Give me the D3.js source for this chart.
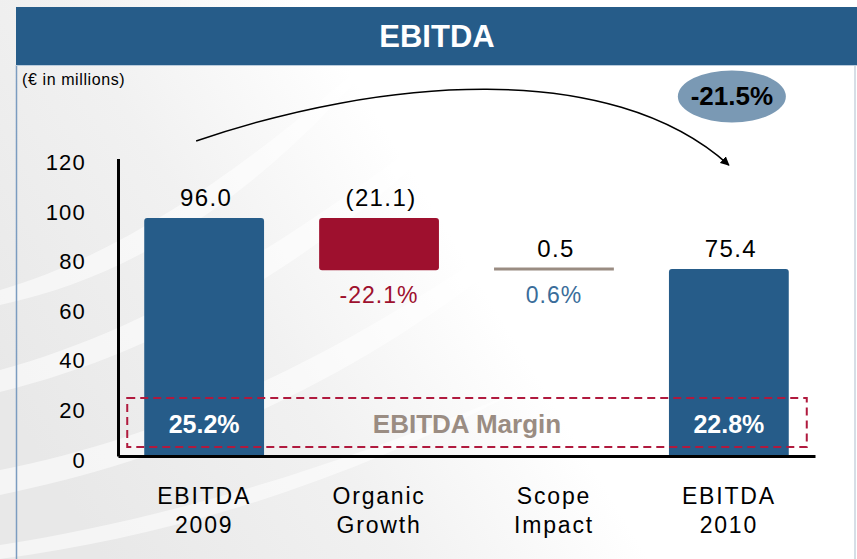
<!DOCTYPE html>
<html>
<head>
<meta charset="utf-8">
<script src="https://cdn.jsdelivr.net/npm/d3@7"></script>
<style>
    body { margin: 0; background: #fff; }
    svg { display: block; font-family: "Liberation Sans", Arial, sans-serif; }
</style>
</head>
<body>
<svg id="chart" width="857" height="559"></svg>
<script>
    // chart data
    const categories = [['EBITDA', '2009'], ['Organic', 'Growth'], ['Scope', 'Impact'], ['EBITDA', '2010']];
    const values = [96.0, -21.1, 0.5, 75.4];
    const isTotal = [true, false, false, true];
    const valueLabels = ['96.0', '(21.1)', '0.5', '75.4'];
    const changeLabels = [null, '-22.1%', '0.6%', null];
    const marginLabels = ['25.2%', null, null, '22.8%'];
    const yTicks = [0, 20, 40, 60, 80, 100, 120];
    const totalChange = '-21.5%';

    const colors = {
        blue: '#265c89',
        red: '#9e102e',
        gray: '#9a8c82',
        dash: '#b01a3e',
        pctBlue: '#3a6d9a'
    };

    const svg = d3.select('#chart');
    const width = 857;
    const height = 559;

    // background swooshes
    const defs = svg.append('defs');
    const grad = defs.append('linearGradient')
        .attr('id', 'bg')
        .attr('x1', 0).attr('y1', 0.7).attr('x2', 1).attr('y2', 0.3);
    grad.append('stop').attr('offset', 0).attr('stop-color', '#e8e8e8');
    grad.append('stop').attr('offset', 0.3).attr('stop-color', '#f1f1f1');
    grad.append('stop').attr('offset', 0.55).attr('stop-color', '#ffffff');
    svg.append('rect')
        .attr('width', width).attr('height', height)
        .attr('fill', 'url(#bg)');
    const streaks = [
        'M0,470 C200,430 400,330 640,140 C430,350 220,450 0,495 Z',
        'M0,370 C150,330 320,230 520,60 C350,250 170,350 0,392 Z',
        'M0,290 C120,255 250,170 400,30 C270,190 140,275 0,305 Z',
        'M0,545 C160,520 330,470 520,390 C350,480 180,535 0,559 Z'
    ];
    svg.selectAll('path.streak')
        .data(streaks)
        .enter().append('path')
        .attr('class', 'streak')
        .attr('d', d => d)
        .attr('fill', '#fff')
        .attr('opacity', 0.55);

    // panel borders and header
    svg.append('line')
        .attr('x1', 16.5).attr('x2', 16.5).attr('y1', 65).attr('y2', height)
        .attr('stroke', '#7b9cc0').attr('stroke-width', 1.5);
    svg.append('line')
        .attr('x1', 855).attr('x2', 855).attr('y1', 65).attr('y2', height)
        .attr('stroke', '#c9d3de').attr('stroke-width', 1.5);
    svg.append('rect')
        .attr('x', 16).attr('y', 7).attr('width', width - 16).attr('height', 58)
        .attr('fill', colors.blue);
    svg.append('line')
        .attr('x1', 16).attr('x2', width).attr('y1', 65.5).attr('y2', 65.5)
        .attr('stroke', '#b9cbdc').attr('stroke-width', 1);
    svg.append('text')
        .attr('x', 437).attr('y', 47)
        .attr('text-anchor', 'middle')
        .attr('fill', '#fff')
        .style('font-size', '31px')
        .style('font-weight', 'bold')
        .text('EBITDA');

    svg.append('text')
        .attr('x', 22).attr('y', 85)
        .style('font-size', '16px')
        .style('letter-spacing', '0.6px')
        .text('(€ in millions)');

    // scales
    const xScale = d3.scaleBand()
        .domain(d3.range(categories.length))
        .range([118, 815])
        .paddingInner(0.315)
        .paddingOuter(0.15);
    const yScale = d3.scaleLinear()
        .domain([0, 120])
        .range([456, 158.4]);

    // waterfall steps
    let running = 0;
    const steps = values.map((v, i) => {
        let start, end;
        if (isTotal[i]) {
            start = 0;
            end = v;
            running = v;
        } else {
            start = running;
            end = running + v;
            running = end;
        }
        return { i, v, start, end, lo: Math.min(start, end), hi: Math.max(start, end) };
    });

    const chart = svg.append('g');

    chart.selectAll('rect.bar')
        .data(steps)
        .enter().append('rect')
        .attr('class', 'bar')
        .attr('x', d => xScale(d.i))
        .attr('width', xScale.bandwidth())
        .attr('y', d => isTotal[d.i] ? yScale(d.hi) : (d.v < 0 ? yScale(d.hi) : yScale(d.hi) - 1.5))
        .attr('height', d => isTotal[d.i] ? yScale(d.lo) - yScale(d.hi) + 2 : Math.max(3, yScale(d.lo) - yScale(d.hi)))
        .attr('rx', d => d.v < 0 || isTotal[d.i] ? 3 : 0)
        .attr('fill', d => isTotal[d.i] ? colors.blue : (d.v < 0 ? colors.red : colors.gray));

    // axes
    const yAxis = d3.axisLeft(yScale)
        .tickValues(yTicks)
        .tickSize(0)
        .tickPadding(32)
        .tickFormat(d3.format('d'));
    const gy = chart.append('g')
        .attr('transform', 'translate(118,0)')
        .call(yAxis);
    gy.select('.domain').attr('stroke', '#000').attr('stroke-width', 3);
    gy.selectAll('.tick text')
        .attr('dy', '0.5em')
        .attr('fill', '#000')
        .style('font-size', '22px')
        .style('letter-spacing', '1.2px')
        .style('font-family', '"Liberation Sans", Arial, sans-serif');

    const xAxis = d3.axisBottom(xScale)
        .tickSize(0)
        .tickSizeOuter(0)
        .tickFormat('');
    const gx = chart.append('g')
        .attr('transform', 'translate(0,456)')
        .call(xAxis);
    gx.select('.domain').attr('stroke', '#000').attr('stroke-width', 3);
    gx.selectAll('.tick').each(function (d) {
        const t = d3.select(this).append('text')
            .attr('text-anchor', 'middle')
            .attr('fill', '#000')
            .style('font-size', '23px')
            .style('letter-spacing', '1.8px')
            .style('font-family', '"Liberation Sans", Arial, sans-serif');
        categories[d].forEach((line, k) => {
            t.append('tspan')
                .attr('x', 0)
                .attr('y', 48 + k * 29)
                .text(line);
        });
    });

    // value labels above
    chart.selectAll('text.val')
        .data(steps)
        .enter().append('text')
        .attr('class', 'val')
        .attr('x', d => xScale(d.i) + xScale.bandwidth() / 2 + 2)
        .attr('y', d => yScale(d.hi) - 12)
        .attr('text-anchor', 'middle')
        .style('font-size', '24px')
        .style('letter-spacing', '1.4px')
        .text(d => valueLabels[d.i]);

    // change % labels below the floating bars
    chart.selectAll('text.chg')
        .data(steps.filter(d => changeLabels[d.i]))
        .enter().append('text')
        .attr('class', 'chg')
        .attr('x', d => xScale(d.i) + xScale.bandwidth() / 2)
        .attr('y', d => yScale(d.lo) + 33)
        .attr('text-anchor', 'middle')
        .attr('fill', d => d.v < 0 ? colors.red : colors.pctBlue)
        .style('font-size', '23px')
        .style('letter-spacing', '1px')
        .text(d => changeLabels[d.i]);

    // EBITDA margin box
    const boxLeft = xScale(0) - 17;
    const boxRight = xScale(3) + xScale.bandwidth() + 18;
    chart.append('rect')
        .attr('x', boxLeft).attr('y', 398)
        .attr('width', boxRight - boxLeft).attr('height', 49)
        .attr('fill', 'none')
        .attr('stroke', colors.dash)
        .attr('stroke-width', 2)
        .attr('stroke-dasharray', '8,5');
    chart.selectAll('text.margin')
        .data(steps.filter(d => marginLabels[d.i]))
        .enter().append('text')
        .attr('class', 'margin')
        .attr('x', d => xScale(d.i) + xScale.bandwidth() / 2)
        .attr('y', 433)
        .attr('text-anchor', 'middle')
        .attr('fill', '#fff')
        .style('font-size', '25px')
        .style('font-weight', 'bold')
        .text(d => marginLabels[d.i]);
    chart.append('text')
        .attr('x', (boxLeft + boxRight) / 2)
        .attr('y', 433)
        .attr('text-anchor', 'middle')
        .attr('fill', colors.gray)
        .style('font-size', '26px')
        .style('font-weight', 'bold')
        .text('EBITDA Margin');

    // overall change arrow
    defs.append('marker')
        .attr('id', 'arrow')
        .attr('viewBox', '0 0 10 10')
        .attr('refX', 9).attr('refY', 5)
        .attr('markerWidth', 9).attr('markerHeight', 9)
        .attr('markerUnits', 'userSpaceOnUse')
        .attr('orient', 'auto')
        .append('path')
        .attr('d', 'M0,0 L10,5 L0,10 Z')
        .attr('fill', '#000');

    const x0 = xScale(0) + xScale.bandwidth() / 2 - 8;
    const x3 = xScale(3) + xScale.bandwidth() / 2;
    const arrowPath = d3.path();
    arrowPath.moveTo(x0, yScale(127));
    arrowPath.bezierCurveTo(380, 78, 610, 58, x3, yScale(117.3));
    svg.append('path')
        .attr('d', arrowPath.toString())
        .attr('fill', 'none')
        .attr('stroke', '#000')
        .attr('stroke-width', 1.5)
        .attr('marker-end', 'url(#arrow)');

    svg.append('ellipse')
        .attr('cx', x3 + 3).attr('cy', yScale(145))
        .attr('rx', 54).attr('ry', 26)
        .attr('fill', '#7a99b4');
    svg.append('text')
        .attr('x', x3 + 3)
        .attr('y', yScale(145) + 9)
        .attr('text-anchor', 'middle')
        .style('font-size', '26px')
        .style('font-weight', 'bold')
        .text(totalChange);
</script>
</body>
</html>
